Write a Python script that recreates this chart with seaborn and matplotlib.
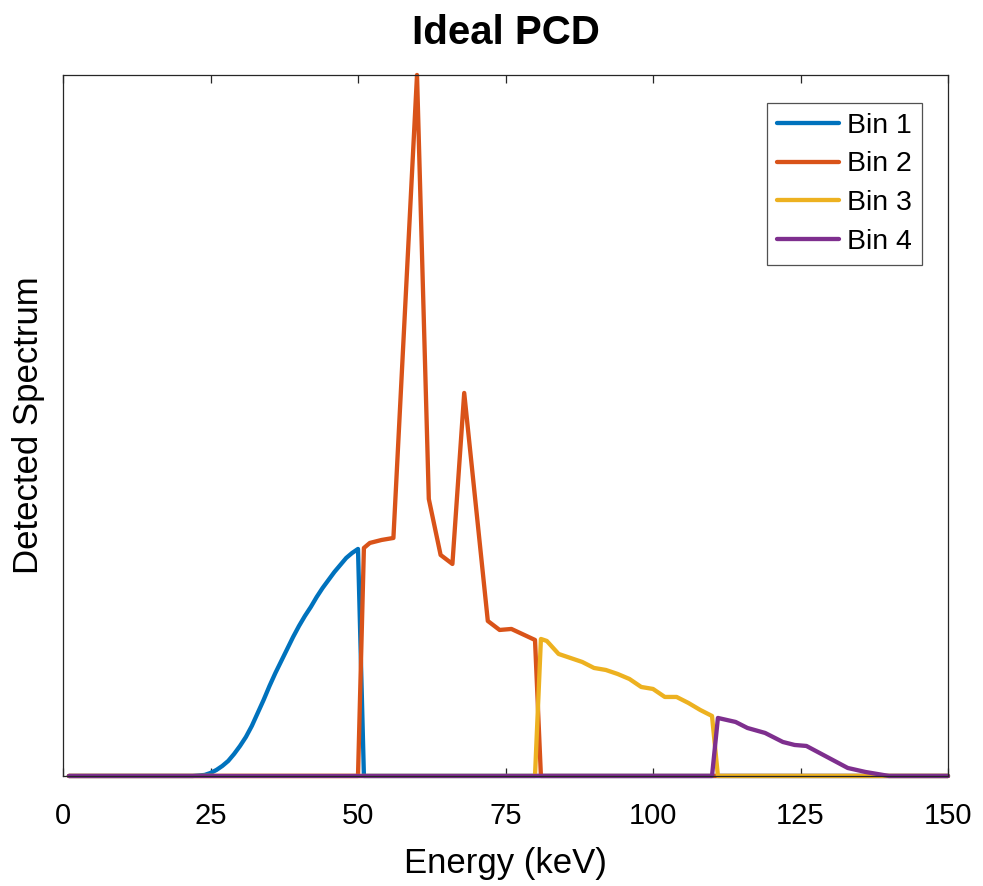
import matplotlib
matplotlib.use("Agg")
import matplotlib.pyplot as plt
import seaborn as sns
import pandas as pd

# Energy grid (keV) and detected counts per energy bin (arbitrary units)
bin1_energy = [1, 22, 24, 25, 26, 27, 28, 29, 30, 31, 32, 33, 34, 35, 36, 37, 38, 39, 40,
               41, 42, 43, 44, 45, 46, 47, 48, 49, 50, 51, 150]
bin1_counts = [0, 0, 1, 3, 6, 10, 15, 22, 30, 39, 50, 63, 76, 90, 103, 115, 127, 139, 150,
               160, 169, 179, 188, 196, 204, 211, 218, 223, 227, 0, 0]

bin2_energy = [1, 50, 51, 52, 54, 56, 60, 62, 64, 66, 68, 72, 74, 76, 80, 81, 150]
bin2_counts = [0, 0, 228, 233, 236, 238, 701, 277, 221, 212, 383, 155, 146, 147, 136, 0, 0]

bin3_energy = [1, 80, 81, 82, 84, 88, 90, 92, 94, 96, 98, 100, 102, 104, 106, 108, 110, 111, 150]
bin3_counts = [0, 0, 137, 135, 122, 114, 108, 106, 102, 97, 89, 87, 79, 79, 73, 66, 60, 0, 0]

bin4_energy = [1, 110, 111, 114, 116, 119, 122, 124, 126, 133, 136, 140, 150]
bin4_counts = [0, 0, 58, 54, 48, 43, 34, 31, 30, 8, 4, 0, 0]

bin_names = ["Bin 1", "Bin 2", "Bin 3", "Bin 4"]
bin_colors = ["#0072BD", "#D95319", "#EDB120", "#7E2F8E"]
x_ticks = [0, 25, 50, 75, 100, 125, 150]

frames = []
for name, e, c in zip(bin_names,
                      [bin1_energy, bin2_energy, bin3_energy, bin4_energy],
                      [bin1_counts, bin2_counts, bin3_counts, bin4_counts]):
    frames.append(pd.DataFrame({"Energy": e, "Counts": c, "Bin": name}))
df = pd.concat(frames, ignore_index=True)

sns.set_theme(style="white")
plt.rcParams["font.family"] = ["Liberation Sans", "DejaVu Sans"]

fig = plt.figure(figsize=(9.83, 8.86), dpi=100)
ax = fig.add_axes([0.0641, 0.1242, 0.9003, 0.7912])

sns.lineplot(data=df, x="Energy", y="Counts", hue="Bin", hue_order=bin_names,
             palette=bin_colors, estimator=None, sort=False, linewidth=3.1,
             legend=False, ax=ax)
for ln in ax.lines:
    ln.set_clip_on(False)
    ln.set_solid_joinstyle("round")

ax.set_xlim(0, 150)
ax.set_ylim(0, max(bin2_counts))
ax.set_xticks(x_ticks)
ax.set_xticklabels([str(t) for t in x_ticks])
ax.set_yticks([])

for s in ax.spines.values():
    s.set_visible(True)
    s.set_color("#262626")
    s.set_linewidth(0.9)

ax.tick_params(axis="x", direction="in", top=True, bottom=True, length=6,
               width=0.9, color="#262626", labelsize=21, pad=19,
               labelcolor="black")

ax.set_xlabel("Energy (keV)", fontsize=25, labelpad=12, color="black")
ax.set_ylabel("Detected Spectrum", fontsize=25, labelpad=13, color="black")
ax.set_title("Ideal PCD", fontsize=29, fontweight="bold", pad=22, color="black")

leg = ax.legend(ax.lines[:4], bin_names, loc="upper right",
                bbox_to_anchor=(0.9706, 0.960), borderaxespad=0,
                fontsize=20.5, handlelength=2.15, handletextpad=0.3,
                labelspacing=0.44, borderpad=0.35, frameon=True,
                fancybox=False)
leg.get_frame().set_edgecolor("#262626")
leg.get_frame().set_linewidth(0.9)
for t in leg.get_texts():
    t.set_color("black")

fig.savefig("out.png", dpi=100, facecolor="white")
